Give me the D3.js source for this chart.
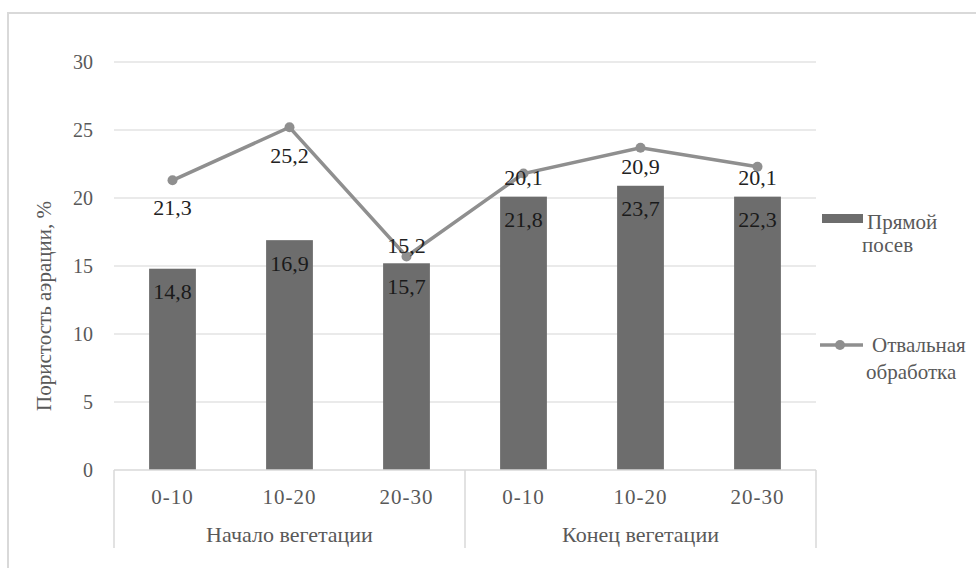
<!DOCTYPE html>
<html><head><meta charset="utf-8">
<script src="https://cdn.jsdelivr.net/npm/d3@7"></script>
<style>
html,body{margin:0;padding:0;background:#fff;}
</style></head>
<body><div id="chart"></div>
<script>
const depths = ["0-10","10-20","20-30","0-10","10-20","20-30"];
const groups = ["Начало вегетации","Конец вегетации"];
const seriesNames = ["Прямой посев","Отвальная обработка"];
const barValues = [14.8,16.9,15.2,20.1,20.9,20.1];
const lineValues = [21.3,25.2,15.7,21.8,23.7,22.3];
const topLabels = ["21,3","25,2","15,2","20,1","20,9","20,1"];
const barLabels = ["14,8","16,9","15,7","21,8","23,7","22,3"];
const yTicks = [0,5,10,15,20,25,30];
const yTitle = "Пористость аэрации, %";

// layout (not data)
const topLabelDy = [27,28,-11,4,19,11];
const FONT = "'Liberation Serif','Times New Roman','DejaVu Serif','Noto Serif',serif";

const W=976,H=568;
const svg=d3.select("#chart").append("svg").attr("width",W).attr("height",H)
  .style("font-family",FONT);
svg.append("rect").attr("width",W).attr("height",H).attr("fill","#fff");
svg.append("path").attr("d","M8,568 V13 H976").attr("fill","none").attr("stroke","#d9d9d9").attr("stroke-width",2);

const x0=114,x1=816,y0=470,y1=62;
const idx=d3.range(depths.length);
const x=d3.scaleBand().domain(idx).range([x0,x1]).paddingInner(0.6).paddingOuter(0.3);
const xc=d3.scaleBand().domain(idx).range([x0,x1]);
const y=d3.scaleLinear().domain([0,30]).range([y0,y1]);

function txt(g){ return g.attr("font-family",FONT); }

svg.append("g").selectAll("line").data(yTicks.filter(t=>t>0)).join("line")
 .attr("x1",x0).attr("x2",x1).attr("y1",d=>y(d)).attr("y2",d=>y(d))
 .attr("stroke","#e3e3e3").attr("stroke-width",1.5);
svg.append("g").selectAll("text").data(yTicks).join("text").call(txt)
 .attr("x",93).attr("y",d=>y(d)).attr("dy","0.35em").attr("text-anchor","end")
 .attr("font-size",20).attr("fill","#595959").text(d=>d);
svg.append("text").call(txt).attr("transform","translate(51,306) rotate(-90)").attr("text-anchor","middle")
 .attr("font-size",21).attr("fill","#595959").text(yTitle);

svg.append("g").selectAll("rect").data(barValues).join("rect")
 .attr("x",(d,i)=>x(i)).attr("width",x.bandwidth())
 .attr("y",d=>y(d)).attr("height",d=>y0-y(d)).attr("fill","#6d6d6d");

svg.append("line").attr("x1",x0).attr("x2",x1).attr("y1",y0).attr("y2",y0).attr("stroke","#d9d9d9").attr("stroke-width",1.5);
const divX=[x0,xc(3),x1];
svg.append("g").selectAll("line").data(divX).join("line")
 .attr("x1",d=>d).attr("x2",d=>d).attr("y1",y0).attr("y2",548).attr("stroke","#d9d9d9").attr("stroke-width",1.5);
svg.append("g").selectAll("text").data(depths).join("text").call(txt)
 .attr("x",(d,i)=>xc(i)+xc.bandwidth()/2).attr("y",497).attr("dy","0.35em").attr("text-anchor","middle")
 .attr("font-size",21).attr("fill","#595959").attr("letter-spacing",1).text(d=>d);
svg.append("g").selectAll("text").data(groups).join("text").call(txt)
 .attr("x",(d,i)=>(xc(i*3)+xc(i*3+2)+xc.bandwidth())/2).attr("y",534).attr("dy","0.35em").attr("text-anchor","middle")
 .attr("font-size",22).attr("fill","#595959").text(d=>d);

const cx=i=>x(i)+x.bandwidth()/2;
svg.append("path").datum(lineValues)
 .attr("d",d3.line().x((d,i)=>cx(i)).y(d=>y(d)))
 .attr("fill","none").attr("stroke","#8f8f8f").attr("stroke-width",3.5);
svg.append("g").selectAll("circle").data(lineValues).join("circle")
 .attr("cx",(d,i)=>cx(i)).attr("cy",d=>y(d)).attr("r",5).attr("fill","#8f8f8f");

svg.append("g").selectAll("text").data(topLabels).join("text").call(txt)
 .attr("x",(d,i)=>cx(i)).attr("y",(d,i)=>y(lineValues[i])+topLabelDy[i]).attr("dy","0.35em").attr("text-anchor","middle")
 .attr("font-size",22).attr("fill","#222").text(d=>d);
svg.append("g").selectAll("text").data(barLabels).join("text").call(txt)
 .attr("x",(d,i)=>cx(i)).attr("y",(d,i)=>y(barValues[i])+23).attr("dy","0.35em").attr("text-anchor","middle")
 .attr("font-size",22).attr("fill","#1a1a1a").text(d=>d);

const leg=svg.append("g");
leg.append("rect").attr("x",822).attr("y",214).attr("width",41).attr("height",9).attr("fill","#6d6d6d");
leg.append("text").call(txt).attr("x",867).attr("y",222).attr("dy","0.35em").attr("font-size",21).attr("fill","#595959").text(seriesNames[0].split(" ")[0]);
leg.append("text").call(txt).attr("x",862).attr("y",245).attr("dy","0.35em").attr("font-size",21).attr("fill","#595959").text(seriesNames[0].split(" ")[1]);
leg.append("line").attr("x1",820).attr("x2",863).attr("y1",345).attr("y2",345).attr("stroke","#8f8f8f").attr("stroke-width",3.5);
leg.append("circle").attr("cx",840).attr("cy",345).attr("r",5).attr("fill","#8f8f8f");
leg.append("text").call(txt).attr("x",872).attr("y",345).attr("dy","0.35em").attr("font-size",21).attr("fill","#595959").text(seriesNames[1].split(" ")[0]);
leg.append("text").call(txt).attr("x",866).attr("y",372).attr("dy","0.35em").attr("font-size",21).attr("fill","#595959").text(seriesNames[1].split(" ")[1]);
</script></body></html>
